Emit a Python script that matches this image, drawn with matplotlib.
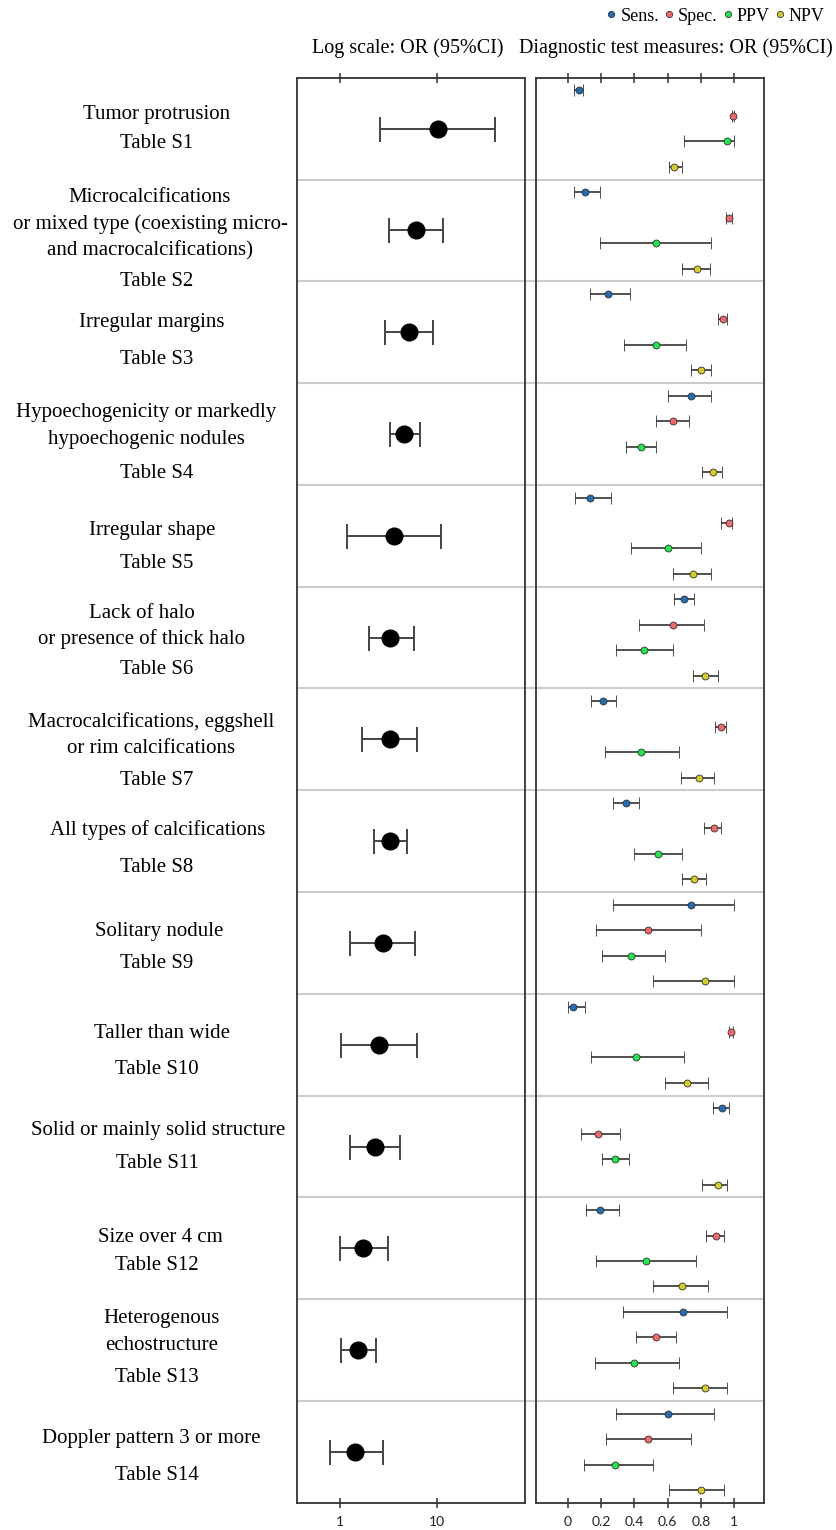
import numpy as np
import matplotlib.pyplot as plt
from matplotlib.lines import Line2D

# row labels (left column)
labels = ["Tumor protrusion",
          "Microcalcifications\nor mixed type (coexisting micro-\nand macrocalcifications)",
          "Irregular margins",
          "Hypoechogenicity or markedly\nhypoechogenic nodules",
          "Irregular shape",
          "Lack of halo\nor presence of thick halo",
          "Macrocalcifications, eggshell\nor rim calcifications",
          "All types of calcifications",
          "Solitary nodule",
          "Taller than wide",
          "Solid or mainly solid structure",
          "Size over 4 cm",
          "Heterogenous\nechostructure",
          "Doppler pattern 3 or more"]
tables = ["Table S%d" % (i + 1) for i in range(14)]

# odds ratios (log panel)
or_est = [10.2, 6.1, 5.2, 4.6, 3.6, 3.3, 3.3, 3.3, 2.8, 2.5, 2.3, 1.74, 1.55, 1.44]
or_lo = [2.6, 3.2, 2.9, 3.3, 1.19, 1.98, 1.69, 2.23, 1.27, 1.03, 1.27, 1.0, 1.03, 0.78]
or_hi = [40.0, 11.6, 9.1, 6.7, 11.2, 5.8, 6.3, 4.9, 5.9, 6.2, 4.2, 3.1, 2.36, 2.76]

# diagnostic measures: [estimate, lower, upper]
sens = [[0.064, 0.034, 0.092], [0.10, 0.034, 0.19], [0.24, 0.13, 0.37],
        [0.74, 0.60, 0.86], [0.13, 0.044, 0.26], [0.70, 0.64, 0.76],
        [0.21, 0.14, 0.29], [0.35, 0.27, 0.43], [0.74, 0.27, 1.0],
        [0.032, 0.0, 0.10], [0.93, 0.87, 0.97], [0.19, 0.11, 0.305],
        [0.69, 0.33, 0.96], [0.60, 0.29, 0.88]]
spec = [[0.996, 0.99, 1.0], [0.968, 0.952, 0.988], [0.936, 0.902, 0.958],
        [0.63, 0.53, 0.73], [0.968, 0.92, 0.988], [0.63, 0.43, 0.82],
        [0.92, 0.886, 0.952], [0.876, 0.82, 0.922], [0.48, 0.17, 0.80],
        [0.98, 0.968, 0.996], [0.178, 0.08, 0.315], [0.888, 0.828, 0.938],
        [0.527, 0.41, 0.65], [0.48, 0.226, 0.74]]
ppv = [[0.956, 0.70, 1.0], [0.527, 0.19, 0.86], [0.527, 0.337, 0.713],
       [0.44, 0.35, 0.53], [0.60, 0.38, 0.80], [0.46, 0.287, 0.63],
       [0.44, 0.22, 0.67], [0.54, 0.395, 0.687], [0.38, 0.204, 0.583],
       [0.41, 0.14, 0.70], [0.283, 0.202, 0.369], [0.47, 0.17, 0.77],
       [0.40, 0.16, 0.67], [0.283, 0.096, 0.51]]
npv = [[0.64, 0.607, 0.685], [0.778, 0.685, 0.854], [0.798, 0.741, 0.86],
       [0.87, 0.808, 0.924], [0.75, 0.63, 0.86], [0.826, 0.75, 0.90],
       [0.79, 0.68, 0.88], [0.76, 0.685, 0.83], [0.826, 0.51, 1.0],
       [0.715, 0.583, 0.842], [0.90, 0.808, 0.958], [0.687, 0.509, 0.842],
       [0.822, 0.631, 0.958], [0.798, 0.607, 0.938]]

measures = ["Sens.", "Spec.", "PPV", "NPV"]
colors = ["#1f6db5", "#f26868", "#1ee84a", "#d6cc27"]

# label layout (pixels): x centre of label lines, row of first line, row of table line
label_xc = [157, 150, 152, 146, 152, 142, 151, 158, 159, 162, 158, 160, 162, 151]
first_px = [113, 197, 322, 412, 529, 612, 721, 830, 930, 1032, 1129, 1237, 1318, 1437]
table_px = [143, 280, 359, 473, 563, 669, 780, 867, 962, 1068, 1162, 1265, 1376, 1474]
line_px = 26.3

serif = ["Liberation Serif", "DejaVu Serif"]
n = len(labels)

fig = plt.figure(figsize=(8.37, 15.3), dpi=100)
ax1 = fig.add_axes([0.3552, 0.0178, 0.2724, 0.9314])
ax2 = fig.add_axes([0.6404, 0.0178, 0.2724, 0.9314])

# left panel: odds ratios on log scale
yc = np.arange(n) + 0.5
est = np.array(or_est)
ax1.errorbar(est, yc, xerr=[est - np.array(or_lo), np.array(or_hi) - est],
             fmt='o', color='black', ms=12, ecolor='#444444', elinewidth=1.4,
             capsize=9, capthick=1.4)
ax1.set_xscale('log')
ax1.set_xlim(0.361, 82.5)
ax1.set_xticks([1, 10])
ax1.set_xticklabels(['1', '10'])
ax1.minorticks_off()

# right panel: diagnostic measures
for k, (data, c) in enumerate(zip([sens, spec, ppv, npv], colors)):
    d = np.array(data)
    yy = np.arange(n) + (k + 0.5) / 4
    ax2.errorbar(d[:, 0], yy, xerr=[d[:, 0] - d[:, 1], d[:, 2] - d[:, 0]],
                 fmt='o', ms=5, mfc=c, mec='#333333', mew=0.6,
                 ecolor='#333333', elinewidth=1.2, capsize=4, capthick=1.2)
ax2.set_xlim(-0.193, 1.18)
ax2.set_xticks([0, 0.2, 0.4, 0.6, 0.8, 1])
ax2.set_xticklabels(['0', '0.2', '0.4', '0.6', '0.8', '1'])

for ax in (ax1, ax2):
    ax.set_ylim(n, 0)
    ax.set_yticks([])
    for s in ax.spines.values():
        s.set_linewidth(1.3)
        s.set_color('#333333')
    ax.tick_params(axis='x', direction='inout', length=7, width=1.1,
                   color='#333333', top=True, labelsize=10, pad=6,
                   labelcolor='#222222')
    for t in ax.get_xticklabels():
        t.set_family(['Lato', 'DejaVu Sans'])

# group separators across both panels
for i in range(1, n):
    ax1.axhline(i, xmin=0, xmax=1.05, color='#cccccc', lw=1.5, clip_on=False, zorder=0)
    ax2.axhline(i, color='#cccccc', lw=1.5, zorder=0)

# row labels, placed in figure pixels
W, H = 837.0, 1530.0
for lab, tab, xc, fy, ty in zip(labels, tables, label_xc, first_px, table_px):
    for j, line in enumerate(lab.split("\n")):
        fig.text(xc / W, 1 - (fy + j * line_px + 5.5) / H, line, ha='center',
                 va='baseline', family=serif, fontsize=15)
    fig.text(157 / W, 1 - (ty + 5.5) / H, tab, ha='center', va='baseline',
             family=serif, fontsize=15)

fig.text(0.4875, 0.9686, "Log scale: OR (95%CI)", ha='center', va='center',
         family=serif, fontsize=14.5)
fig.text(0.8077, 0.9686, "Diagnostic test measures: OR (95%CI)", ha='center',
         va='center', family=serif, fontsize=14.5)

handles = [Line2D([], [], ls='none', marker='o', ms=4.5, mfc=c, mec='#333333', mew=0.6)
           for c in colors]
fig.legend(handles, measures, loc='center', bbox_to_anchor=(0.855, 0.9895),
           ncol=4, frameon=False, handletextpad=0.25, columnspacing=0.3,
           handlelength=0.5, prop={'family': serif, 'size': 13})

fig.savefig('out.png', dpi=100)
